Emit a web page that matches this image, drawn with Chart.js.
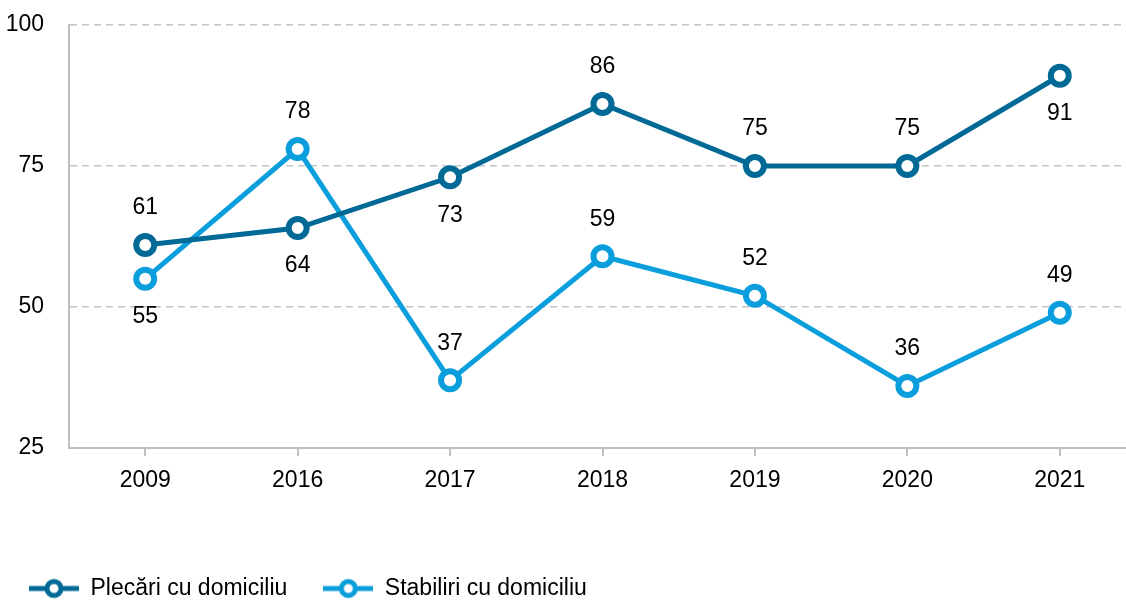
<!DOCTYPE html>
<html>
<head>
<meta charset="utf-8">
<script src="https://cdn.jsdelivr.net/npm/chart.js@4/dist/chart.umd.min.js"></script>
<style>
  html, body { margin: 0; padding: 0; background: #fff; overflow: hidden; }
  #wrap { width: 1160px; height: 601px; }
</style>
</head>
<body>
<div id="wrap"><canvas id="chart" width="1160" height="601"></canvas></div>
<script>
const years = ["2009", "2016", "2017", "2018", "2019", "2020", "2021"];
const plecari = [61, 64, 73, 86, 75, 75, 91];
const stabiliri = [55, 78, 37, 59, 52, 36, 49];
const yTicks = [25, 50, 75, 100];

// where each value label sits relative to its point
const plecariLabelSide = ["up", "down", "down", "up", "up", "up", "down"];
const stabiliriLabelSide = ["down", "up", "up", "up", "up", "up", "up"];

const darkBlue = "#006996";
const lightBlue = "#0A9EDD";
const FONT = '"Liberation Sans Narrow", "Arial Narrow", "Liberation Sans", Arial, sans-serif';
const FONT_SIZE = 23;

function legendMarker(color) {
  const c = document.createElement("canvas");
  c.width = 50;
  c.height = 24;
  const g = c.getContext("2d");
  g.strokeStyle = color;
  g.lineWidth = 5;
  g.beginPath();
  g.moveTo(0, 12);
  g.lineTo(50, 12);
  g.stroke();
  g.beginPath();
  g.arc(25, 12, 7, 0, Math.PI * 2);
  g.fillStyle = "#fff";
  g.fill();
  g.stroke();
  return c;
}
const markers = [legendMarker(darkBlue), legendMarker(lightBlue)];

const valueLabels = {
  id: "valueLabels",
  afterDatasetsDraw(chart) {
    const ctx = chart.ctx;
    const sides = [plecariLabelSide, stabiliriLabelSide];
    ctx.save();
    ctx.font = FONT_SIZE + "px " + FONT;
    ctx.fillStyle = "#000";
    ctx.textAlign = "center";
    ctx.textBaseline = "middle";
    chart.data.datasets.forEach((ds, i) => {
      const meta = chart.getDatasetMeta(i);
      meta.data.forEach((pt, j) => {
        const dy = sides[i][j] === "up" ? -37 : 38;
        ctx.fillText(String(ds.data[j]), pt.x, pt.y + dy);
      });
    });
    ctx.restore();
  },
};

const LEGEND_PAD = 36;
const legendPlace = {
  id: "legendPlace",
  afterLayout(chart) {
    chart.legend.left = 29 - LEGEND_PAD;
    chart.legend.top = 577 - LEGEND_PAD;
  },
};

new Chart(document.getElementById("chart"), {
  type: "line",
  data: {
    labels: years,
    datasets: [
      {
        label: "Plecări cu domiciliu",
        data: plecari,
        borderColor: darkBlue,
        backgroundColor: "#fff",
        borderWidth: 5,
        pointRadius: 9,
        pointBorderWidth: 6,
        pointBackgroundColor: "#fff",
        pointBorderColor: darkBlue,
        tension: 0,
      },
      {
        label: "Stabiliri cu domiciliu",
        data: stabiliri,
        borderColor: lightBlue,
        backgroundColor: "#fff",
        borderWidth: 5,
        pointRadius: 9,
        pointBorderWidth: 6,
        pointBackgroundColor: "#fff",
        pointBorderColor: lightBlue,
        tension: 0,
      },
    ],
  },
  options: {
    responsive: false,
    animation: false,
    layout: { padding: { left: 0, right: 24, top: 25, bottom: 0 } },
    plugins: {
      tooltip: { enabled: false },
      legend: {
        position: "bottom",
        align: "start",
        labels: {
          usePointStyle: true,
          pointStyleWidth: 50,
          padding: LEGEND_PAD,
          color: "#000",
          font: { family: FONT, size: FONT_SIZE },
          generateLabels(chart) {
            const items = Chart.defaults.plugins.legend.labels.generateLabels(chart);
            items.forEach((it, i) => { it.pointStyle = markers[i]; });
            return items;
          },
        },
      },
    },
    scales: {
      x: {
        offset: true,
        grid: {
          display: true,
          drawOnChartArea: false,
          drawTicks: true,
          tickLength: 8,
          color: "#BFBFBF",
          lineWidth: 2,
        },
        border: { display: true, color: "#BFBFBF", width: 2 },
        ticks: { color: "#000", padding: 11, font: { family: FONT, size: FONT_SIZE } },
        afterFit(scale) {
          scale.height = scale.chart.height - 448 - scale.chart.legend.height;
        },
      },
      y: {
        min: 25,
        max: 100,
        afterBuildTicks(scale) {
          scale.ticks = yTicks.map((v) => ({ value: v }));
        },
        grid: {
          drawTicks: true,
          tickLength: 22,
          tickColor: "rgba(0,0,0,0)",
          color: (c) => (c.tick && c.tick.value === 25 ? "rgba(0,0,0,0)" : "#C4C4C4"),
          lineWidth: 1.5,
        },
        border: { display: true, color: "#BFBFBF", width: 2, dash: [7, 5] },
        ticks: { color: "#000", padding: 3, font: { family: FONT, size: FONT_SIZE } },
        afterFit(scale) {
          scale.width = 69;
        },
      },
    },
  },
  plugins: [valueLabels, legendPlace],
});
</script>
</body>
</html>
